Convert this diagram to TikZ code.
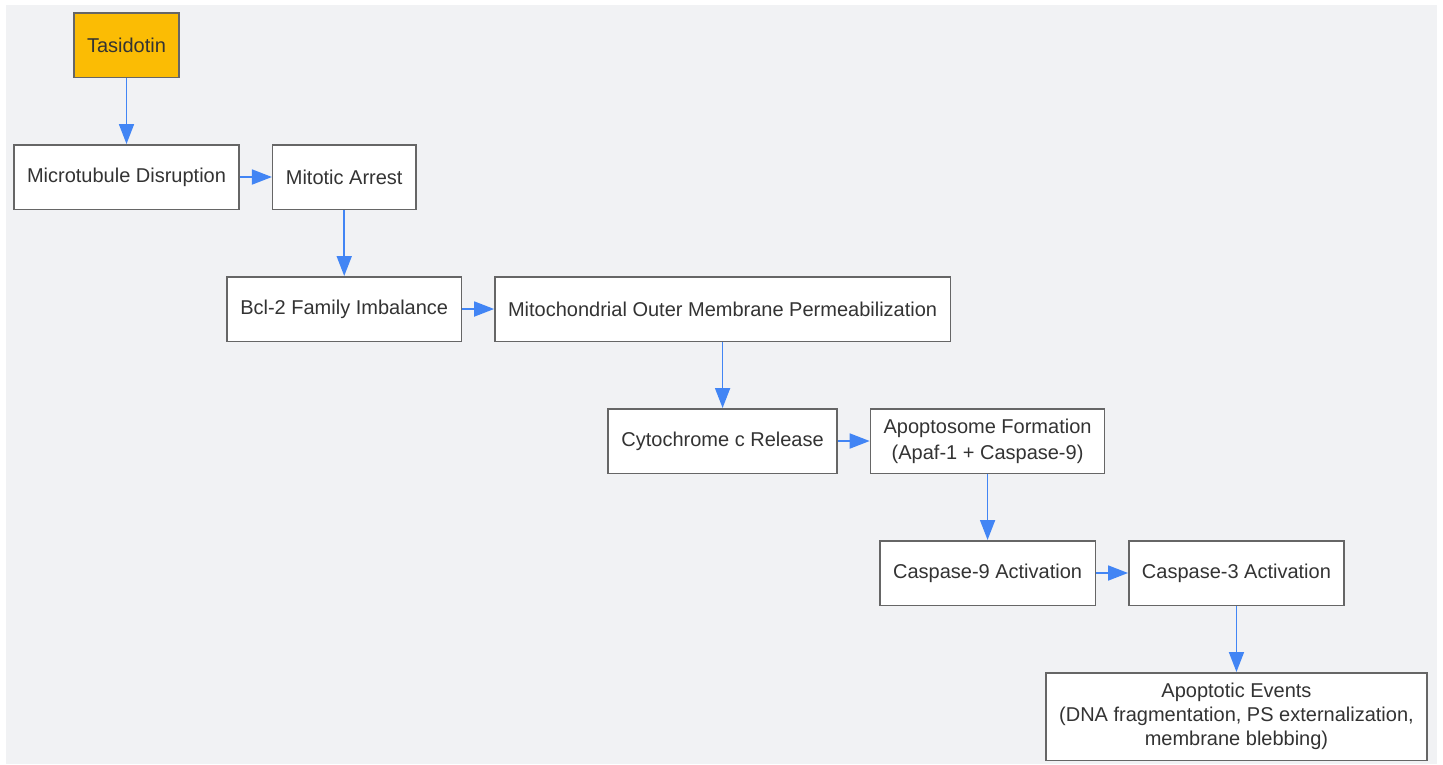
\documentclass[tikz,border=0pt]{standalone}
\usepackage{fontspec}
\setmainfont{Liberation Sans}
\usepackage{tikz}
\usetikzlibrary{arrows.meta,positioning}

\definecolor{bggray}{HTML}{F1F2F4}
\definecolor{boxline}{HTML}{666666}
\definecolor{flowblue}{HTML}{4285F4}
\definecolor{drugyellow}{HTML}{FBBC04}
\definecolor{textgray}{HTML}{333333}

\begin{document}
\begin{tikzpicture}[
		node distance=66pt and 32pt,
		stepnode/.style={rectangle, draw=boxline, line width=1.5pt, fill=white, text=textgray, font=\fontsize{20pt}{24pt}\selectfont, inner xsep=13.2pt, inner ysep=0pt, minimum height=64.5pt, align=center},
		drugnode/.style={stepnode, fill=drugyellow},
		flow/.style={draw=flowblue, line width=1.8pt, -{Triangle[length=20pt,width=15pt]}}
	]
		\useasboundingbox (0,0) rectangle (1443pt,-764pt);
		\fill[bggray] (6pt,-5pt) rectangle (1437pt,-764pt);

		\node[drugnode] at (126.5pt,-45pt)(tasidotin){Tasidotin};
		\node[stepnode](mt-disrupt)[below =of tasidotin]{Microtubule Disruption};
		\node[stepnode](mitotic-arrest)[right =of mt-disrupt]{Mitotic Arrest};
		\node[stepnode](bcl-2)[below =of mitotic-arrest]{Bcl-2 Family Imbalance};
		\node[stepnode](momp)[right =of bcl-2]{Mitochondrial Outer Membrane Permeabilization};
		\node[stepnode](cyt-c)[below =of momp]{Cytochrome c Release};
		\node[stepnode](apoptosome)[right =of cyt-c]{Apoptosome Formation\\[2pt](Apaf-1 + Caspase-9)};
		\node[stepnode](casp-9)[below =of apoptosome]{Caspase-9 Activation};
		\node[stepnode](casp-3)[right =of casp-9]{Caspase-3 Activation};
		\node[stepnode, minimum height=87.5pt](apop-events)[below =of casp-3]{Apoptotic Events\\(DNA fragmentation, PS externalization,\\membrane blebbing)};

		\draw[flow](tasidotin) -- (mt-disrupt);
		\draw[flow](mt-disrupt) -- (mitotic-arrest);
		\draw[flow](mitotic-arrest) -- (bcl-2);
		\draw[flow](bcl-2) -- (momp);
		\draw[flow](momp) -- (cyt-c);
		\draw[flow](cyt-c) -- (apoptosome);
		\draw[flow](apoptosome) -- (casp-9);
		\draw[flow](casp-9) -- (casp-3);
		\draw[flow](casp-3) -- (apop-events);
	\end{tikzpicture}
\end{document}
